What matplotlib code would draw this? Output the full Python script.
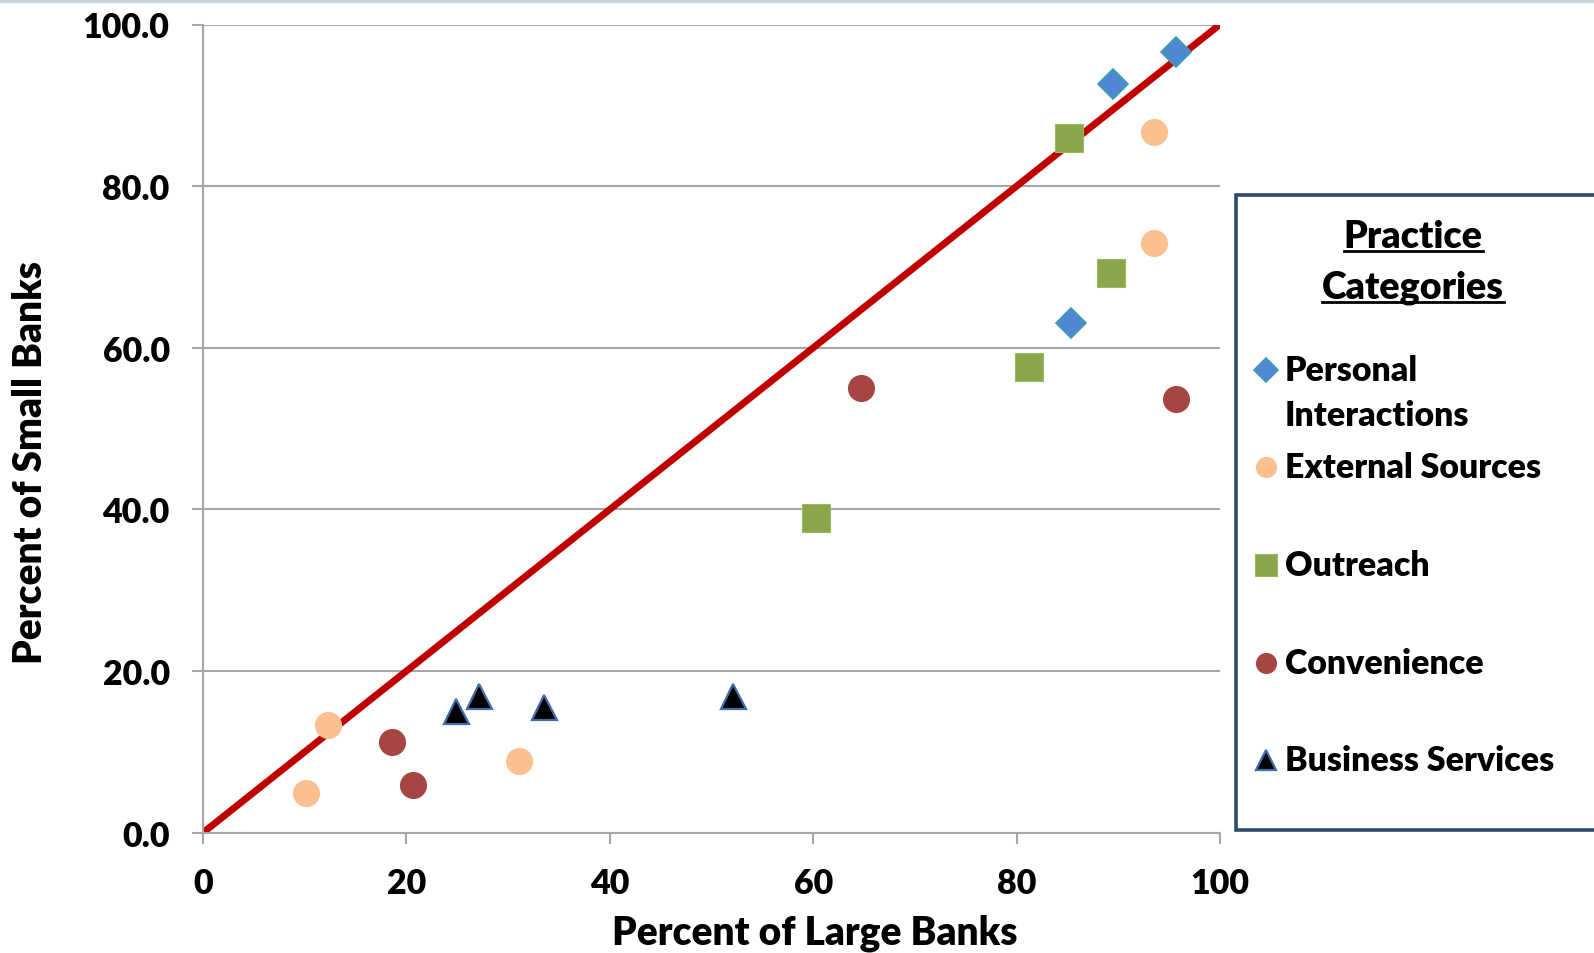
import matplotlib
matplotlib.use("Agg")
import matplotlib.pyplot as plt
from matplotlib.lines import Line2D
from matplotlib.patches import Rectangle

plt.rcParams['font.family'] = ['Lato', 'DejaVu Sans']
WEIGHT = 'heavy'

# Practice categories: (percent of large banks, percent of small banks)
personal_x = [95.7, 89.5, 85.3]
personal_y = [96.6, 92.6, 63.1]
external_x = [93.5, 93.5, 12.3, 10.1, 31.1]
external_y = [86.7, 73.0, 13.3, 4.9, 8.9]
outreach_x = [85.2, 89.3, 81.2, 60.3]
outreach_y = [86.0, 69.2, 57.6, 38.9]
convenience_x = [64.7, 95.7, 18.6, 20.6]
convenience_y = [55.0, 53.7, 11.2, 5.9]
business_x = [24.9, 27.1, 33.5, 52.1]
business_y = [15.0, 16.9, 15.5, 16.9]

x_ticks = [0, 20, 40, 60, 80, 100]
y_ticks = [0, 20, 40, 60, 80, 100]
equal_line = [0, 100]

W, H = 1594, 954
fig = plt.figure(figsize=(W / 100, H / 100), dpi=100)
ax = fig.add_axes([203 / W, 1 - 833.7 / H, (1220 - 203) / W, (833.7 - 25.5) / H])

grid_c = '#A6A6A6'
ax.set_xlim(0, 100)
ax.set_ylim(0, 100)
ax.set_xticks(x_ticks)
ax.set_yticks(y_ticks)
ax.set_xticklabels([str(v) for v in x_ticks])
ax.set_yticklabels([f"{v:.1f}" for v in y_ticks])
ax.yaxis.grid(True, color=grid_c, linewidth=1.5)
ax.set_axisbelow(True)
for s in ['top', 'right']:
    ax.spines[s].set_visible(False)
for s in ['left', 'bottom']:
    ax.spines[s].set_color(grid_c)
    ax.spines[s].set_linewidth(1.5)
ax.tick_params(axis='both', direction='out', length=8, width=1.5, color=grid_c,
               labelsize=24.5)
ax.tick_params(axis='x', pad=17)
ax.tick_params(axis='y', pad=16)
for lbl in ax.get_xticklabels() + ax.get_yticklabels():
    lbl.set_fontweight(WEIGHT)

ax.plot(equal_line, equal_line, color='#C00000', linewidth=5, zorder=2, solid_capstyle='butt')

ms = 19.5
s_pi = dict(marker='D', color='#4F88D0', markersize=15.5, markeredgecolor='#3A9BB5', markeredgewidth=1.2)
s_es = dict(marker='o', color='#FAC090', markersize=ms, markeredgewidth=0)
s_ou = dict(marker='s', color='#8BA64D', markersize=19.5, markeredgecolor='#9BBB59', markeredgewidth=0.8)
s_co = dict(marker='o', color='#A64541', markersize=ms, markeredgewidth=0)
s_bs = dict(marker='^', color='black', markersize=18, markeredgecolor='#3E6DAA', markeredgewidth=1.6)

ax.plot(personal_x, personal_y, linestyle='none', zorder=3, **s_pi)
ax.plot(external_x, external_y, linestyle='none', zorder=3, **s_es)
ax.plot(outreach_x, outreach_y, linestyle='none', zorder=3, **s_ou)
ax.plot(convenience_x, convenience_y, linestyle='none', zorder=3, **s_co)
ax.plot(business_x, business_y, linestyle='none', zorder=3, **s_bs)

ax.set_xlabel('Percent of Large Banks', fontsize=28, fontweight=WEIGHT)
ax.set_ylabel('Percent of Small Banks', fontsize=28, fontweight=WEIGHT)
ax.xaxis.set_label_coords(0.602, -0.123)
ax.xaxis.label.set_verticalalignment('center')
ax.yaxis.set_label_coords(-0.170, 0.459)
ax.yaxis.label.set_verticalalignment('center')

# top frame line of the chart area
fig.add_artist(Line2D([0, 1], [1 - 1.5 / H, 1 - 1.5 / H], transform=fig.transFigure,
                      color='#C9D3DC', linewidth=3))

# legend box
def fx(px):
    return px / W

def fy(py):
    return 1 - py / H

fig.add_artist(Rectangle((fx(1236), fy(831)), fx(W + 20) - fx(1236), fy(195.5) - fy(831),
                         transform=fig.transFigure, facecolor='white',
                         edgecolor='#2C4A6E', linewidth=2.6, zorder=1))

title_kw = dict(fontsize=27, fontweight=WEIGHT, ha='center', va='center')
for txt, py in [('Practice', 237), ('Categories', 288)]:
    fig.text(fx(1413), fy(py), txt, **title_kw)
# underlines under title words
fig.canvas.draw()
r = fig.canvas.get_renderer()
for t in list(fig.texts):
    if t.get_text() in ('Practice', 'Categories'):
        bb = t.get_window_extent(renderer=r)
        yline = bb.y0 + 2
        fig.add_artist(Line2D([bb.x0 / W, bb.x1 / W], [yline / H, yline / H],
                              transform=fig.transFigure, color='black', linewidth=2))

entries = [
    (s_pi, ['Personal', 'Interactions'], [371, 416]),
    (s_es, ['External Sources'], [468]),
    (s_ou, ['Outreach'], [566]),
    (s_co, ['Convenience'], [664]),
    (s_bs, ['Business Services'], [761]),
]
for style, lines, ys in entries:
    st = dict(style)
    st['markersize'] = st['markersize'] * 0.78
    fig.add_artist(Line2D([fx(1266)], [fy(ys[0])], transform=fig.transFigure,
                          linestyle='none', **st))
    for txt, py in zip(lines, ys):
        fig.text(fx(1285), fy(py), txt, fontsize=24.4, fontweight=WEIGHT,
                 ha='left', va='center')

fig.savefig('out.png', dpi=100, facecolor='white')
